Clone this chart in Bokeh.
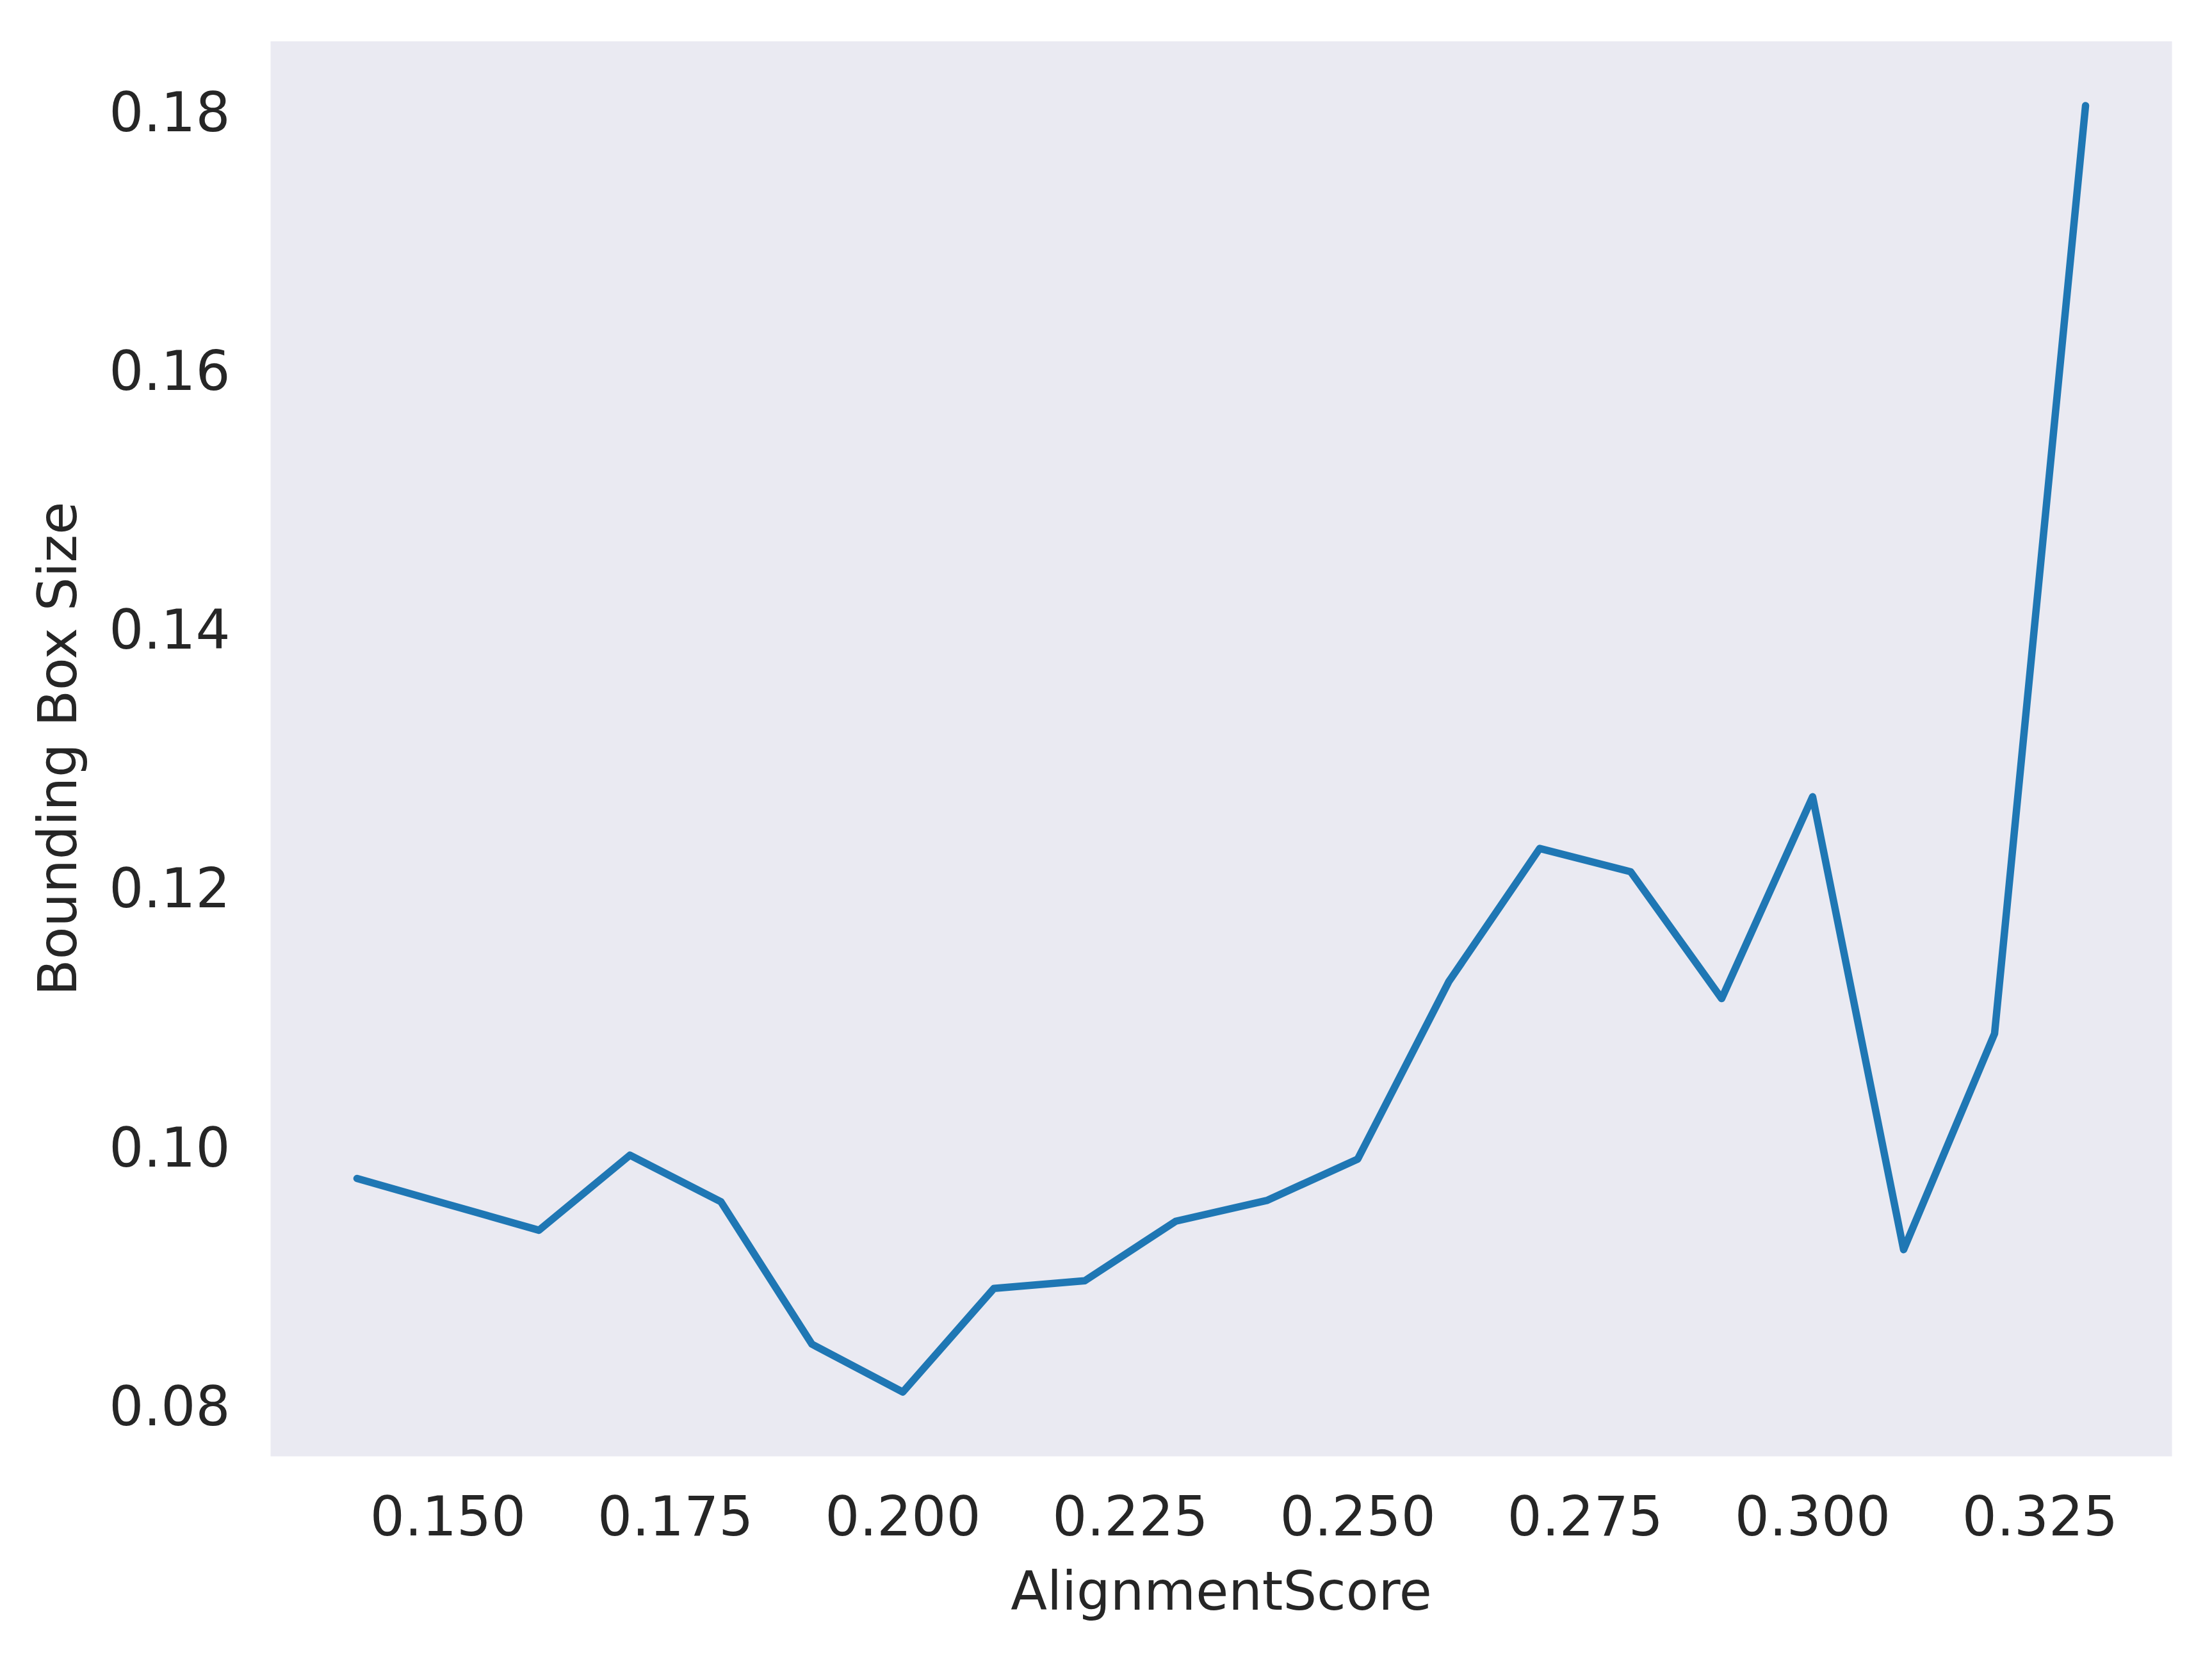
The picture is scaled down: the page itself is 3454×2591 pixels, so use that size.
from bokeh.plotting import figure
from bokeh.models import Range1d, FixedTicker
from bokeh.embed import file_html
from bokeh.resources import INLINE

alignment_score = [0.14, 0.15, 0.16, 0.17, 0.18, 0.19, 0.20, 0.21, 0.22, 0.23,
                   0.24, 0.25, 0.26, 0.27, 0.28, 0.29, 0.30, 0.31, 0.32, 0.33]
bbox_size = [0.0975, 0.0955, 0.0935, 0.0993, 0.0957, 0.0847, 0.0810, 0.0890, 0.0896, 0.0942,
             0.0958, 0.0990, 0.1127, 0.1230, 0.1212, 0.1114, 0.1270, 0.0920, 0.1087, 0.1804]
x_ticks = [0.150, 0.175, 0.200, 0.225, 0.250, 0.275, 0.300, 0.325]
y_ticks = [0.08, 0.10, 0.12, 0.14, 0.16, 0.18]

W, H = 3438, 2575
p = figure(width=W, height=H, output_backend="svg", toolbar_location=None,
           min_border_left=422, min_border_right=47, min_border_top=64, min_border_bottom=301)

xmin, xmax = min(alignment_score), max(alignment_score)
ymin, ymax = min(bbox_size), max(bbox_size)
xp = (xmax - xmin) * 0.05
yp = (ymax - ymin) * 0.05
p.x_range = Range1d(xmin - xp, xmax + xp)
p.y_range = Range1d(ymin - yp, ymax + yp)

p.line(alignment_score, bbox_size, line_color="#1f77b4", line_width=11.5,
       line_join="round", line_cap="round")

p.background_fill_color = "#EAEAF2"
p.border_fill_color = "white"
p.outline_line_color = None
p.xgrid.visible = False
p.ygrid.visible = False

p.xaxis.ticker = FixedTicker(ticks=x_ticks)
p.yaxis.ticker = FixedTicker(ticks=y_ticks)
p.xaxis.major_label_overrides = {t: f"{t:.3f}" for t in x_ticks}
p.yaxis.major_label_overrides = {t: f"{t:.2f}" for t in y_ticks}

for ax in (p.xaxis, p.yaxis):
    ax.axis_line_color = None
    ax.major_tick_line_color = None
    ax.minor_tick_line_color = None
    ax.major_tick_out = 0
    ax.major_tick_in = 0
    ax.major_label_text_font = "DejaVu Sans"
    ax.major_label_text_font_size = "85px"
    ax.major_label_text_color = "#262626"
    ax.axis_label_text_font = "DejaVu Sans"
    ax.axis_label_text_font_size = "83px"
    ax.axis_label_text_font_style = "normal"
    ax.axis_label_text_color = "#262626"

p.xaxis.axis_label = "AlignmentScore"
p.yaxis.axis_label = "Bounding Box Size"
p.xaxis.major_label_standoff = 60
p.yaxis.major_label_standoff = 63
p.xaxis.axis_label_standoff = 36
p.yaxis.axis_label_standoff = 28

open("out.html", "w").write(file_html(p, INLINE))
